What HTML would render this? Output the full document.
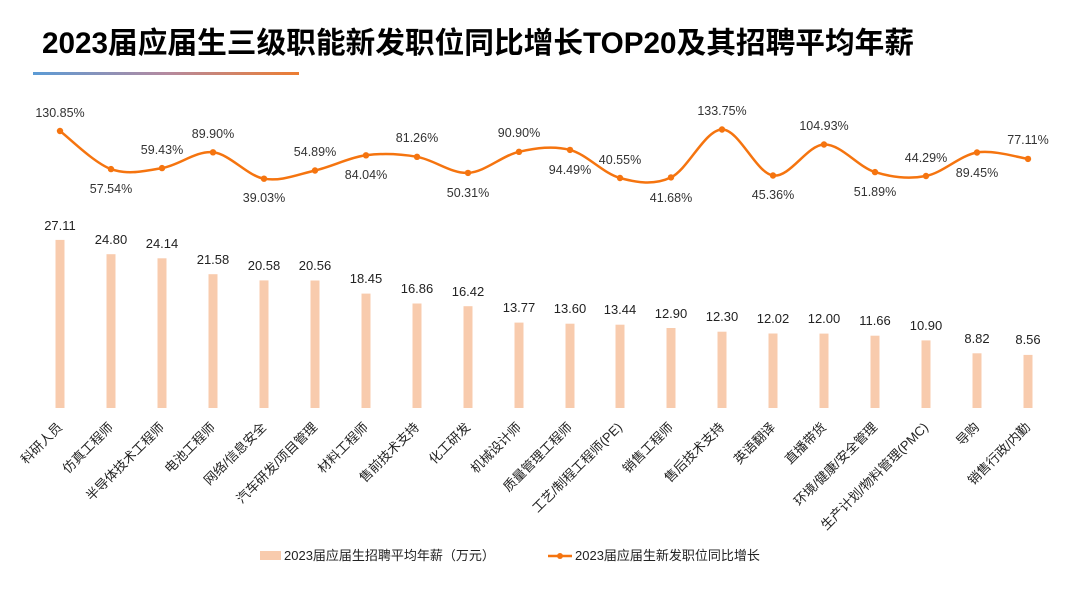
<!DOCTYPE html>
<html><head><meta charset="utf-8"><style>
body{margin:0;background:#fff;}
svg text{font-family:"Liberation Sans","Noto Sans CJK SC",sans-serif;}
</style></head><body>
<svg width="1080" height="608" viewBox="0 0 1080 608" xmlns="http://www.w3.org/2000/svg">
<defs><linearGradient id="g" x1="0" x2="1"><stop offset="0" stop-color="#5b9bd5"/><stop offset="0.5" stop-color="#b48aa0"/><stop offset="1" stop-color="#ed7d31"/></linearGradient></defs>
<text x="42" y="53" font-size="29.7" font-weight="bold" fill="#000" style="font-family:'Liberation Sans','Noto Sans CJK SC',sans-serif">2023届应届生三级职能新发职位同比增长TOP20及其招聘平均年薪</text>
<rect x="33" y="72" width="266" height="3" fill="url(#g)"/>
<g fill="#f8cbad">
<rect x="55.5" y="239.9" width="9" height="168.1"/>
<rect x="106.5" y="254.2" width="9" height="153.8"/>
<rect x="157.5" y="258.3" width="9" height="149.7"/>
<rect x="208.5" y="274.2" width="9" height="133.8"/>
<rect x="259.5" y="280.4" width="9" height="127.6"/>
<rect x="310.5" y="280.5" width="9" height="127.5"/>
<rect x="361.5" y="293.6" width="9" height="114.4"/>
<rect x="412.5" y="303.5" width="9" height="104.5"/>
<rect x="463.5" y="306.2" width="9" height="101.8"/>
<rect x="514.5" y="322.6" width="9" height="85.4"/>
<rect x="565.5" y="323.7" width="9" height="84.3"/>
<rect x="615.5" y="324.7" width="9" height="83.3"/>
<rect x="666.5" y="328" width="9" height="80"/>
<rect x="717.5" y="331.7" width="9" height="76.3"/>
<rect x="768.5" y="333.5" width="9" height="74.5"/>
<rect x="819.5" y="333.6" width="9" height="74.4"/>
<rect x="870.5" y="335.7" width="9" height="72.3"/>
<rect x="921.5" y="340.4" width="9" height="67.6"/>
<rect x="972.5" y="353.3" width="9" height="54.7"/>
<rect x="1023.5" y="354.9" width="9" height="53.1"/>
</g>
<g font-size="13" fill="#222" text-anchor="middle">
<text x="60" y="230">27.11</text><text x="111" y="244">24.80</text><text x="162" y="248">24.14</text><text x="213" y="264">21.58</text><text x="264" y="270">20.58</text><text x="315" y="270">20.56</text><text x="366" y="283">18.45</text><text x="417" y="293">16.86</text><text x="468" y="296">16.42</text><text x="519" y="312">13.77</text><text x="570" y="313">13.60</text><text x="620" y="314">13.44</text><text x="671" y="318">12.90</text><text x="722" y="321">12.30</text><text x="773" y="323">12.02</text><text x="824" y="323">12.00</text><text x="875" y="325">11.66</text><text x="926" y="330">10.90</text><text x="977" y="343">8.82</text><text x="1028" y="344">8.56</text>
</g>
<path id="ln" fill="none" stroke="#f5740f" stroke-width="2.5"/>
<g id="dots" fill="#f5740f"></g>
<g font-size="12.5" fill="#333" text-anchor="middle">
<text x="60" y="117">130.85%</text>
<text x="111" y="193">57.54%</text>
<text x="162" y="154">59.43%</text>
<text x="213" y="138">89.90%</text>
<text x="264" y="202">39.03%</text>
<text x="315" y="156">54.89%</text>
<text x="366" y="179">84.04%</text>
<text x="417" y="142">81.26%</text>
<text x="468" y="197">50.31%</text>
<text x="519" y="137">90.90%</text>
<text x="570" y="174">94.49%</text>
<text x="620" y="164">40.55%</text>
<text x="671" y="202">41.68%</text>
<text x="722" y="115">133.75%</text>
<text x="773" y="199">45.36%</text>
<text x="824" y="130">104.93%</text>
<text x="875" y="196">51.89%</text>
<text x="926" y="162">44.29%</text>
<text x="977" y="177">89.45%</text>
<text x="1028" y="144">77.11%</text>
</g>
<g font-size="13" fill="#222" text-anchor="end">
<text transform="translate(63,428) rotate(-45)">科研人员</text>
<text transform="translate(114,428) rotate(-45)">仿真工程师</text>
<text transform="translate(165,428) rotate(-45)">半导体技术工程师</text>
<text transform="translate(216,428) rotate(-45)">电池工程师</text>
<text transform="translate(267,428) rotate(-45)">网络/信息安全</text>
<text transform="translate(318,428) rotate(-45)">汽车研发/项目管理</text>
<text transform="translate(369,428) rotate(-45)">材料工程师</text>
<text transform="translate(420,428) rotate(-45)">售前技术支持</text>
<text transform="translate(471,428) rotate(-45)">化工研发</text>
<text transform="translate(522,428) rotate(-45)">机械设计师</text>
<text transform="translate(573,428) rotate(-45)">质量管理工程师</text>
<text transform="translate(623,428) rotate(-45)">工艺/制程工程师(PE)</text>
<text transform="translate(674,428) rotate(-45)">销售工程师</text>
<text transform="translate(725,428) rotate(-45)">售后技术支持</text>
<text transform="translate(776,428) rotate(-45)">英语翻译</text>
<text transform="translate(827,428) rotate(-45)">直播带货</text>
<text transform="translate(878,428) rotate(-45)">环境/健康/安全管理</text>
<text transform="translate(929,428) rotate(-45)">生产计划/物料管理(PMC)</text>
<text transform="translate(980,428) rotate(-45)">导购</text>
<text transform="translate(1031,428) rotate(-45)">销售行政/内勤</text>
</g>
<rect x="260" y="551" width="21" height="9" fill="#f8cbad"/>
<text x="284" y="560" font-size="13" fill="#222">2023届应届生招聘平均年薪（万元）</text>
<line x1="548" y1="556" x2="572" y2="556" stroke="#f5740f" stroke-width="2.5"/>
<circle cx="560" cy="556" r="3" fill="#f5740f"/>
<text x="575" y="560" font-size="13" fill="#222">2023届应届生新发职位同比增长</text>
</svg>
<script>
var xs=[60,111,162,213,264,315,366,417,468,519,570,620,671,722,773,824,875,926,977,1028];
var ys=[131,169.1,168.1,152.3,178.7,170.5,155.3,156.8,172.9,151.8,149.9,178,177.4,129.5,175.5,144.5,172.1,176,152.5,158.9];
var d="M"+xs[0]+","+ys[0];
for(var i=0;i<19;i++){var p0=i>0?i-1:i,p3=i<18?i+2:i+1;
var c1x=xs[i]+(xs[i+1]-xs[p0])/6,c1y=ys[i]+(ys[i+1]-ys[p0])/6;
var c2x=xs[i+1]-(xs[p3]-xs[i])/6,c2y=ys[i+1]-(ys[p3]-ys[i])/6;
d+=" C"+c1x+","+c1y+" "+c2x+","+c2y+" "+xs[i+1]+","+ys[i+1];}
document.getElementById("ln").setAttribute("d",d);
var g=document.getElementById("dots"),s="";
for(var i=0;i<20;i++)s+='<circle cx="'+xs[i]+'" cy="'+ys[i]+'" r="3.2"/>';
g.innerHTML=s;
</script>
</body></html>
